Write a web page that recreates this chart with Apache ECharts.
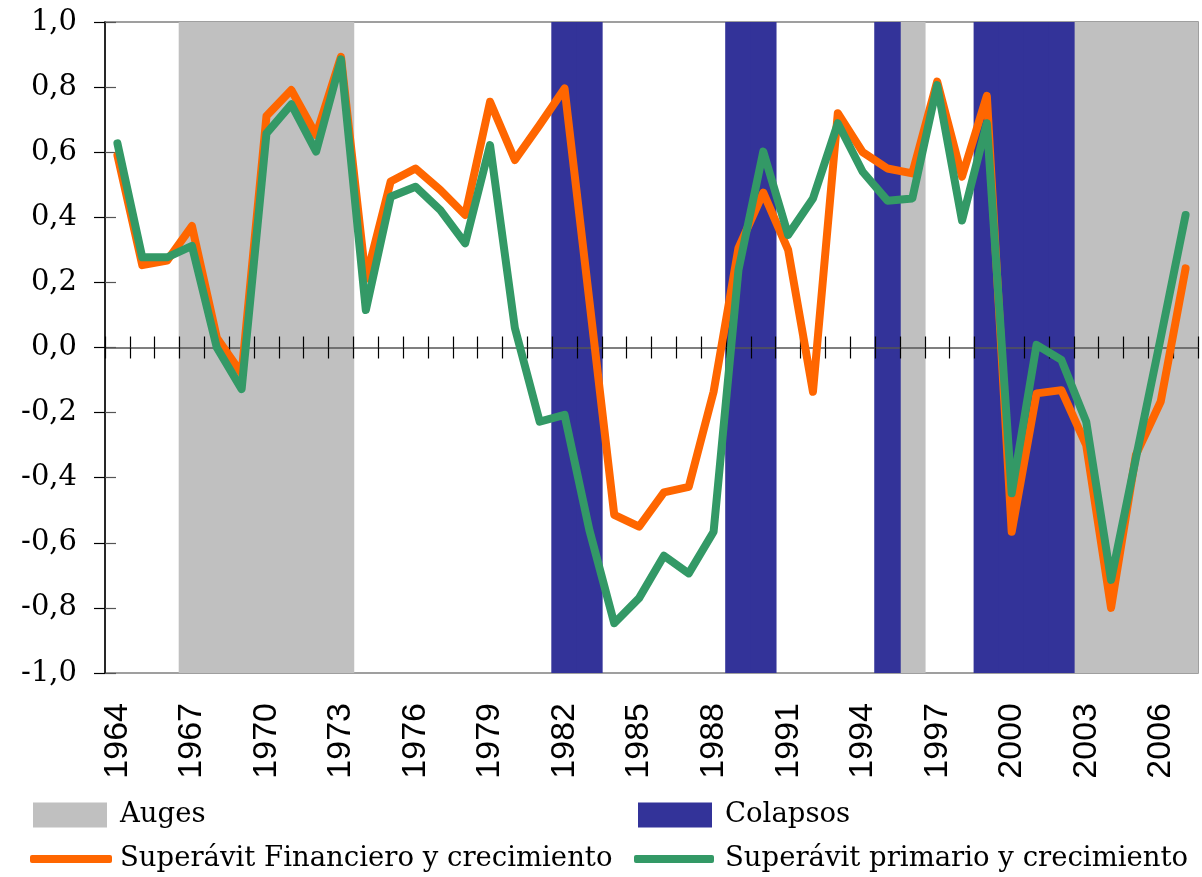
<!DOCTYPE html>
<html>
<head>
<meta charset="utf-8">
<script src="https://cdn.jsdelivr.net/npm/echarts@6/dist/echarts.min.js"></script>
<style>
html, body { margin: 0; padding: 0; background: #ffffff; }
#main { width: 1202px; height: 877px; }
</style>
</head>
<body>
<div id="main"></div>
<script>
// years on the category axis
var years = ['1964', '1965', '1966', '1967', '1968', '1969', '1970', '1971', '1972', '1973',
	'1974', '1975', '1976', '1977', '1978', '1979', '1980', '1981', '1982', '1983',
	'1984', '1985', '1986', '1987', '1988', '1989', '1990', '1991', '1992', '1993',
	'1994', '1995', '1996', '1997', '1998', '1999', '2000', '2001', '2002', '2003',
	'2004', '2005', '2006', '2007'];

// Superávit Financiero y crecimiento
var financiero = [0.59, 0.253, 0.267, 0.373, 0.03, -0.08, 0.711, 0.791, 0.653, 0.893,
	0.21, 0.51, 0.55, 0.484, 0.407, 0.755, 0.576, 0.684, 0.796, 0.143,
	-0.514, -0.55, -0.445, -0.428, -0.136, 0.305, 0.476, 0.30, -0.136, 0.72,
	0.60, 0.55, 0.535, 0.817, 0.525, 0.773, -0.566, -0.141, -0.131, -0.30,
	-0.80, -0.33, -0.166, 0.243];

// Superávit primario y crecimiento
var primario = [0.627, 0.277, 0.277, 0.312, 0.0, -0.128, 0.658, 0.747, 0.602, 0.885,
	0.115, 0.463, 0.494, 0.422, 0.32, 0.622, 0.06, -0.228, -0.207, -0.561,
	-0.847, -0.77, -0.64, -0.694, -0.566, 0.238, 0.602, 0.346, 0.458, 0.689,
	0.54, 0.451, 0.458, 0.806, 0.39, 0.689, -0.448, 0.008, -0.038, -0.228,
	-0.714, -0.34, 0.03, 0.407];

// shaded periods
var augesYears = ['1967', '1968', '1969', '1970', '1971', '1972', '1973', '1996',
	'2003', '2004', '2005', '2006', '2007'];
var colapsosYears = ['1982', '1983', '1989', '1990', '1995', '1999', '2000', '2001', '2002'];

var yMin = -1, yMax = 1, yStep = 0.2;

var serif = '"DejaVu Serif", "Liberation Serif", serif';
var sans = '"Liberation Sans", Arial, sans-serif';

function bandData(list) {
	return years.map(function (y) { return list.indexOf(y) >= 0 ? 1 : '-'; });
}

window.onload = () => {
	var myChart = echarts.init(document.getElementById('main'), null, { renderer: 'canvas' });

	var legendText = { fontFamily: serif, fontSize: 27.5, color: '#000' };

	var option = {
		animation: false,
		backgroundColor: '#ffffff',
		grid: {
			left: 105, right: 4, top: 22, bottom: 204,
			show: true, borderColor: '#808080', borderWidth: 1.5, backgroundColor: 'transparent'
		},
		legend: [
			{ left: 33, top: 801, padding: 0, itemWidth: 74, itemHeight: 25, selectedMode: false,
				data: [{ name: 'Auges', icon: 'rect' }],
				textStyle: Object.assign({ padding: [0, 0, 0, 8] }, legendText) },
			{ left: 638, top: 801, padding: 0, itemWidth: 74, itemHeight: 25, selectedMode: false,
				data: [{ name: 'Colapsos', icon: 'rect' }],
				textStyle: Object.assign({ padding: [0, 0, 0, 8] }, legendText) },
			{ left: 30, top: 845, padding: 0, itemWidth: 82, itemHeight: 8, selectedMode: false,
				data: [{ name: 'Superávit Financiero y crecimiento', icon: 'roundRect' }],
				textStyle: Object.assign({ padding: [0, 0, 0, 3] }, legendText) },
			{ left: 634, top: 845, padding: 0, itemWidth: 80, itemHeight: 8, selectedMode: false,
				data: [{ name: 'Superávit primario y crecimiento', icon: 'roundRect' }],
				textStyle: Object.assign({ padding: [0, 0, 0, 6] }, legendText) }
		],
		xAxis: [
			// labels at the bottom of the plot
			{ type: 'category', data: years, position: 'bottom', boundaryGap: true,
				axisLine: { show: false, onZero: false },
				axisTick: { show: false },
				axisLabel: { interval: 2, rotate: 90, margin: 30, fontFamily: sans, fontSize: 34, color: '#000' },
				splitLine: { show: false } },
			// zero line with ticks going down
			{ type: 'category', data: years, position: 'bottom', boundaryGap: true, z: 10,
				axisLine: { show: true, onZero: true, onZeroAxisIndex: 0, lineStyle: { color: '#555', width: 1.5 } },
				axisTick: { show: true, interval: 0, length: 11, inside: false, lineStyle: { color: '#000', width: 1.2 } },
				axisLabel: { show: false } },
			// ticks going up
			{ type: 'category', data: years, position: 'bottom', boundaryGap: true, z: 10,
				axisLine: { show: false, onZero: true, onZeroAxisIndex: 0 },
				axisTick: { show: true, interval: 0, length: 11, inside: true, lineStyle: { color: '#000', width: 1.2 } },
				axisLabel: { show: false } }
		],
		yAxis: [
			{ type: 'value', min: yMin, max: yMax, interval: yStep, position: 'left', z: 10,
				axisLine: { show: true, onZero: false, lineStyle: { color: '#000', width: 1.5 } },
				axisTick: { show: true, length: 11, inside: false, lineStyle: { color: '#000', width: 1.2 } },
				axisLabel: { margin: 28, fontFamily: serif, fontSize: 29, color: '#000',
					formatter: function (v) { return v.toFixed(1).replace('.', ','); } },
				splitLine: { show: false } },
			{ type: 'value', min: yMin, max: yMax, interval: yStep, position: 'left', z: 10,
				axisLine: { show: false, onZero: false },
				axisTick: { show: true, length: 11, inside: true, lineStyle: { color: '#555', width: 1.2 } },
				axisLabel: { show: false },
				splitLine: { show: false } },
			// hidden axis for the full-height bands
			{ type: 'value', min: 0, max: 1, show: false, position: 'right' }
		],
		series: [
			{ name: 'Auges', type: 'bar', xAxisIndex: 0, yAxisIndex: 2, data: bandData(augesYears),
				barWidth: 26.5, barGap: '-100%', z: 2, color: '#c0c0c0',
				itemStyle: { color: '#c0c0c0' } },
			{ name: 'Colapsos', type: 'bar', xAxisIndex: 0, yAxisIndex: 2, data: bandData(colapsosYears),
				barWidth: 26.5, barGap: '-100%', z: 2, color: '#333399',
				itemStyle: { color: '#333399' } },
			{ name: 'Superávit Financiero y crecimiento', type: 'line', xAxisIndex: 0, yAxisIndex: 0,
				data: financiero, showSymbol: false, z: 20, color: '#ff6600',
				itemStyle: { color: '#ff6600' },
				lineStyle: { color: '#ff6600', width: 8, cap: 'round', join: 'round' } },
			{ name: 'Superávit primario y crecimiento', type: 'line', xAxisIndex: 0, yAxisIndex: 0,
				data: primario, showSymbol: false, z: 21, color: '#339966',
				itemStyle: { color: '#339966' },
				lineStyle: { color: '#339966', width: 8, cap: 'round', join: 'round' } }
		]
	};

	myChart.setOption(option);

	window.addEventListener('resize', function () {
		myChart.resize();
	});
};
</script>
</body>
</html>
